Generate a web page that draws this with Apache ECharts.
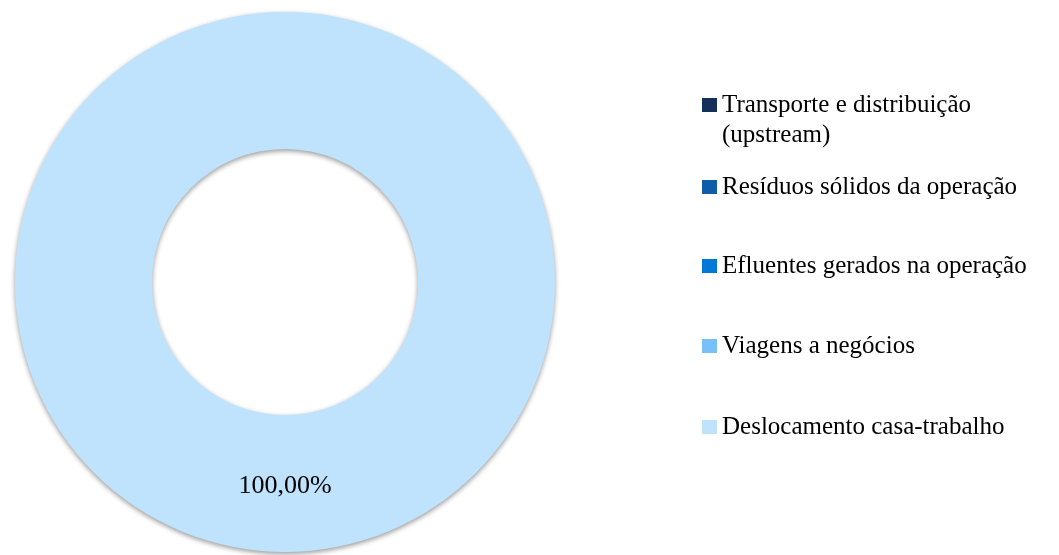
<!DOCTYPE html>
<html><head><meta charset="utf-8">
<script src="https://cdn.jsdelivr.net/npm/echarts@6/dist/echarts.min.js"></script>
<style>html,body{margin:0;padding:0;background:#fff}#c{width:1059px;height:555px}</style>
</head><body><div id="c"></div>
<script>
const categories = ['Transporte e distribuição\n(upstream)', 'Resíduos sólidos da operação', 'Efluentes gerados na operação', 'Viagens a negócios', 'Deslocamento casa-trabalho'];
const values = [0, 0, 0, 0, 100];
const colors = ['#12305A', '#0F5CA8', '#0078D7', '#78C0F9', '#BFE3FC'];
const legendCenters = [105, 187, 266, 346, 427];

const font = '"Liberation Serif","Times New Roman",serif';
const chart = echarts.init(document.getElementById('c'));
const legends = categories.map((name, i) => {
  const multi = name.indexOf('\n') >= 0;
  return {
    data: [name],
    left: 702,
    top: legendCenters[i] - (multi ? 45 : 15),
    padding: 0,
    itemWidth: 15, itemHeight: 14, itemGap: 6,
    icon: 'rect',
    selectedMode: false,
    formatter: n => n.indexOf('\n') >= 0 ? '\u00a0\n' + n : n,
    textStyle: {fontFamily: font, fontSize: 25, color: '#000', lineHeight: 30}
  };
});
chart.setOption({
  animation: false,
  color: colors,
  legend: legends,
  series: [{
    type: 'pie',
    center: [285, 282],
    radius: [133, 270],
    startAngle: 90,
    clockwise: true,
    avoidLabelOverlap: false,
    itemStyle: {shadowBlur: 5, shadowColor: 'rgba(0,0,0,0.4)', shadowOffsetY: 2, borderWidth: 0},
    emphasis: {disabled: true},
    labelLine: {show: false},
    label: {
      position: 'inside', fontFamily: font, fontSize: 26, color: '#000',
      formatter: p => p.value > 0 ? p.percent.toFixed(2).replace('.', ',') + '%' : ''
    },
    data: categories.map((n, i) => ({name: n, value: values[i]}))
  }]
});
</script></body></html>
